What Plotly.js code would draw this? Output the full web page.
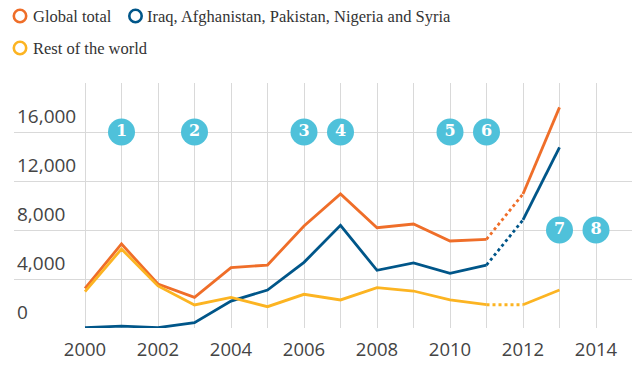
<!DOCTYPE html>
<html>
<head>
<meta charset="utf-8">
<script src="https://cdn.plot.ly/plotly-3.0.1.min.js"></script>
<style>html,body{margin:0;padding:0;background:#fff;}#chart{width:632px;height:370px;}</style>
</head>
<body>
<div id="chart"></div>
<script>
// ---- data ----
const years = [2000, 2001, 2002, 2003, 2004, 2005, 2006, 2007, 2008, 2009, 2010, 2011, 2012, 2013];
const globalTotal = [3240, 6860, 3590, 2500, 4930, 5140, 8330, 10940, 8190, 8490, 7100, 7240, 10940, 18010];
const fiveCountries = [20, 160, 30, 440, 2200, 3100, 5360, 8380, 4710, 5310, 4460, 5140, 8820, 14750];
const restOfWorld = [2970, 6450, 3430, 1880, 2500, 1740, 2750, 2290, 3290, 3020, 2290, 1900, 1900, 3100];
const seriesNames = ["Global total", "Iraq, Afghanistan, Pakistan, Nigeria and Syria", "Rest of the world"];
const eventYears = [2001, 2003, 2006, 2007, 2010, 2011, 2013, 2014];
const eventLevels = [16000, 16000, 16000, 16000, 16000, 16000, 8000, 8000];
const eventLabels = ["1", "2", "3", "4", "5", "6", "7", "8"];
const yTickVals = [0, 4000, 8000, 12000, 16000, 20000];
const yTickText = ["0", "4,000", "8,000", "12,000", "16,000", ""];
const xTickVals = [2000, 2001, 2002, 2003, 2004, 2005, 2006, 2007, 2008, 2009, 2010, 2011, 2012, 2013, 2014];
const xTickText = ["2000", "", "2002", "", "2004", "", "2006", "", "2008", "", "2010", "", "2012", "", "2014"];
// index where the estimated (dotted) segment starts
const estStart = 11;

// ---- styling ----
const colors = ["#ef6e29", "#005689", "#fcb422"];
const badgeColor = "#4fc1da";
const W = 2.8;
const series = [globalTotal, fiveCountries, restOfWorld];

const traces = [];
series.forEach((vals, i) => {
  traces.push({x: years.slice(0, estStart + 1), y: vals.slice(0, estStart + 1), mode: "lines",
    line: {color: colors[i], width: W}, showlegend: false, hoverinfo: "skip"});
  traces.push({x: years.slice(estStart, estStart + 2), y: vals.slice(estStart, estStart + 2), mode: "lines",
    line: {color: colors[i], width: W, dash: "dot"}, showlegend: false, hoverinfo: "skip"});
  traces.push({x: years.slice(estStart + 1), y: vals.slice(estStart + 1), mode: "lines",
    line: {color: colors[i], width: W}, showlegend: false, hoverinfo: "skip"});
});
traces.push({x: eventYears, y: eventLevels, text: eventLabels, mode: "markers+text",
  marker: {size: 27, color: badgeColor, line: {width: 0}},
  textposition: "middle center", cliponaxis: false,
  textfont: {family: "DejaVu Serif, Liberation Serif, serif", size: 16, color: "#ffffff", weight: "bold"},
  showlegend: false, hoverinfo: "skip"});

// plot area in pixels
const L = 14, T = 83, B = 42, WIDTH = 632, HEIGHT = 370;
const pw = WIDTH - L, ph = HEIGHT - T - B;
const px = v => (v - L) / pw;
const py = v => (HEIGHT - B - v) / ph;

const legendItems = [
  {cx: 20, cy: 16, tx: 31, name: seriesNames[0], c: colors[0]},
  {cx: 135.5, cy: 16, tx: 145, name: seriesNames[1], c: colors[1]},
  {cx: 20, cy: 48, tx: 31, name: seriesNames[2], c: colors[2]}
];
const shapes = legendItems.map(it => ({type: "circle", xref: "paper", yref: "paper",
  xsizemode: "pixel", ysizemode: "pixel", xanchor: px(it.cx), yanchor: py(it.cy),
  x0: -6.2, x1: 6.2, y0: -6.2, y1: 6.2, line: {color: it.c, width: 2.6}, fillcolor: "rgba(0,0,0,0)"}));
const annotations = legendItems.map(it => ({xref: "paper", yref: "paper", x: px(it.tx), y: py(it.cy),
  xanchor: "left", yanchor: "middle", showarrow: false, text: it.name,
  font: {family: "Liberation Serif, serif", size: 16.5, color: "#333333"}}));

const layout = {
  width: WIDTH, height: HEIGHT,
  margin: {l: L, r: 0, t: T, b: B, pad: 0},
  paper_bgcolor: "#ffffff", plot_bgcolor: "#ffffff",
  showlegend: false,
  xaxis: {range: [2000 - 71 / 36.5, 2014 + 36 / 36.5], tickmode: "array", tickvals: xTickVals, ticktext: xTickText,
    showgrid: true, gridcolor: "#d9d9d9", gridwidth: 1, zeroline: false, showline: false, ticks: "",
    ticklabelstandoff: 8,
    tickfont: {family: "Open Sans, sans-serif", size: 18.5, color: "#444444"}, fixedrange: true},
  yaxis: {range: [0, 20000], tickmode: "array", tickvals: yTickVals, ticktext: yTickText,
    showgrid: true, gridcolor: "#d9d9d9", gridwidth: 1, zeroline: false, showline: false, ticks: "",
    ticklabelposition: "inside top", ticklabelshift: -2,
    tickfont: {family: "Open Sans, sans-serif", size: 19, color: "#444444"}, fixedrange: true},
  shapes: shapes,
  annotations: annotations
};

Plotly.newPlot("chart", traces, layout, {displayModeBar: false, staticPlot: true});
</script>
</body>
</html>
